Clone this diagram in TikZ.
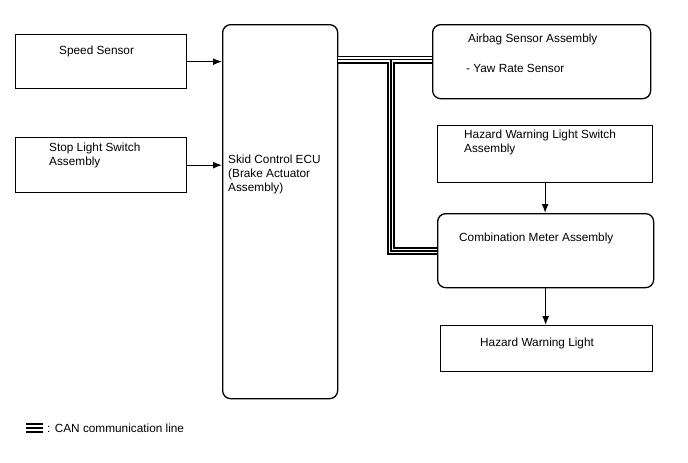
\documentclass[tikz,border=0pt]{standalone}
\usepackage{fontspec}
\setmainfont{Liberation Sans}
\usetikzlibrary{arrows.meta}
\begin{document}
\begin{tikzpicture}[x=1pt,y=-1pt,
  box/.style={draw=black,line width=1.3pt,anchor=north west,inner sep=0pt},
  rbox/.style={box,rounded corners=8pt},
  txt/.style={inner sep=0pt,anchor=west,align=left,font=\fontsize{11.8}{14}\selectfont},
  arr/.style={line width=1.3pt,-{Latex[length=9pt,width=7pt]}},
  canA/.style={line width=8pt,black},
  canB/.style={line width=4.8pt,white},
  canC/.style={line width=1.6pt,black}]
\useasboundingbox (0,0) rectangle (688,463);
\fill[white] (0,0) rectangle (688,463);
% boxes
\node[box,minimum width=171pt,minimum height=54pt] (speed) at (15,34) {};
\node[box,minimum width=171pt,minimum height=55pt] (stop) at (15,137) {};
\node[rbox,minimum width=115pt,minimum height=374pt] (ecu) at (222,24) {};
\node[rbox,minimum width=218pt,minimum height=74pt] (airbag) at (432,24) {};
\node[box,minimum width=215pt,minimum height=57pt] (hsw) at (437,125) {};
\node[rbox,minimum width=216pt,minimum height=74pt] (meter) at (437,213) {};
\node[box,minimum width=212pt,minimum height=46pt] (hlight) at (440,325) {};
% texts
\node[txt] (tspeed) at (59,51) {Speed Sensor};
\node[txt] (tstop) at (49,155) {Stop Light Switch\\Assembly};
\node[txt] (tecu) at (228,174) {Skid Control ECU\\(Brake Actuator\\Assembly)};
\node[txt] (tair1) at (468,39) {Airbag Sensor Assembly};
\node[txt] (tair2) at (466,68) {- Yaw Rate Sensor};
\node[txt] (thsw) at (464,142) {Hazard Warning Light Switch\\Assembly};
\node[txt] (tmeter) at (459,238) {Combination Meter Assembly};
\node[txt] (thl) at (480,343) {Hazard Warning Light};
% arrows
\draw[arr] (speed.east) -- (ecu.west |- speed.east);
\draw[arr] (stop.east) -- (ecu.west |- stop.east);
\draw[arr] (hsw.south) -- (hsw.south |- meter.north);
\draw[arr] (meter.south) -- (meter.south |- hlight.north);
% CAN lines
\coordinate (h1) at (ecu.east |- 0,59.5);
\coordinate (h2) at (airbag.west |- 0,59.5);
\coordinate (v1) at (391,59.5);
\coordinate (v2) at (391,251);
\coordinate (v3) at (meter.west |- v2);
\foreach \s in {canA,canB,canC}{
  \draw[\s] (h1) -- (h2);
  \draw[\s,miter limit=10] (v1) -- (v2) -- (v3);
}
% legend
\node[inner sep=0pt,minimum width=17pt,minimum height=10pt] (leg) at (34.5,428) {};
\fill (leg.north west) rectangle ++(17,2.4);
\fill (leg.west) ++(0,-1.2) rectangle ++(17,2.4);
\fill (leg.south west) rectangle ++(17,-2.4);
\node[txt] (tleg) at (47,428) {: CAN communication line};
\end{tikzpicture}
\end{document}
